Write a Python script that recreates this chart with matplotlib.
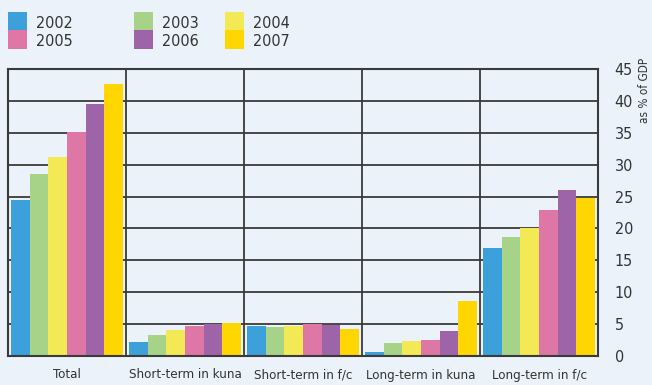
import matplotlib
matplotlib.use("Agg")
import matplotlib.pyplot as plt
import numpy as np

plt.rcParams['font.family'] = ['DejaVu Sans']
plt.rcParams['font.stretch'] = 'condensed'

categories = ["Total", "Short-term in kuna", "Short-term in f/c",
              "Long-term in kuna", "Long-term in f/c"]
years = ["2002", "2003", "2004", "2005", "2006", "2007"]
values = {
    "2002": [24.4, 2.2, 4.7, 0.6, 16.9],
    "2003": [28.5, 3.3, 4.5, 2.0, 18.7],
    "2004": [31.2, 4.1, 4.7, 2.3, 20.1],
    "2005": [35.1, 4.7, 5.0, 2.5, 22.9],
    "2006": [39.5, 5.0, 4.9, 3.9, 26.0],
    "2007": [42.6, 5.2, 4.2, 8.6, 24.8],
}
colors = ["#3CA1DB", "#A6D388", "#F2E955", "#DE77A5", "#9D64A8", "#FFD600"]
yticks = [0, 5, 10, 15, 20, 25, 30, 35, 40, 45]

bg = "#EBF2FA"
fig = plt.figure(figsize=(6.52, 3.85), dpi=100, facecolor=bg)
ax = fig.add_axes([8/652, 1-356/385, 590/652, 287/385], facecolor=bg)

x = np.arange(len(categories))
bw = 0.157
for i, yr in enumerate(years):
    ax.bar(x + (i - 2.5) * bw, values[yr], width=bw, color=colors[i],
           zorder=3, linewidth=0)

ax.set_xlim(-0.5, len(categories) - 0.5)
ax.set_ylim(0, 45)
ax.set_yticks(yticks)
ax.yaxis.tick_right()
ax.tick_params(axis='y', length=0, pad=12, labelsize=11.5, labelcolor="#333333")
ax.set_xticks(x)
ax.set_xticklabels(categories)
ax.tick_params(axis='x', length=0, pad=9, labelsize=9.5, labelcolor="#333333")
for lab in ax.get_yticklabels():
    lab.set_horizontalalignment('left')

grid_c = "#3a3a3a"
for yv in yticks[1:-1]:
    ax.axhline(yv, color=grid_c, lw=1.3, zorder=1)
for xv in x[:-1] + 0.5:
    ax.axvline(xv, color=grid_c, lw=1.3, zorder=1)
for s in ax.spines.values():
    s.set_color(grid_c)
    s.set_linewidth(1.5)
    s.set_zorder(4)

fig.text(644/652, 1-90/385, "as % of GDP", rotation=90, ha='center', va='center',
         fontsize=8.5, color="#333333")

# legend: three columns, two rows
cols_x = [8, 134, 225]
rows_y = [12, 30]
order = [[0, 3], [1, 4], [2, 5]]
for c, xs in enumerate(cols_x):
    for r, ys in enumerate(rows_y):
        idx = order[c][r]
        fig.patches.append(plt.Rectangle((xs/652, 1-(ys+19)/385), 19/652, 19/385,
                                         transform=fig.transFigure,
                                         facecolor=colors[idx], edgecolor='none'))
        fig.text((xs+28)/652, 1-(ys+11)/385, years[idx], ha='left', va='center',
                 fontsize=11.5, color="#333333")

fig.savefig("out.png", dpi=100, facecolor=bg)
